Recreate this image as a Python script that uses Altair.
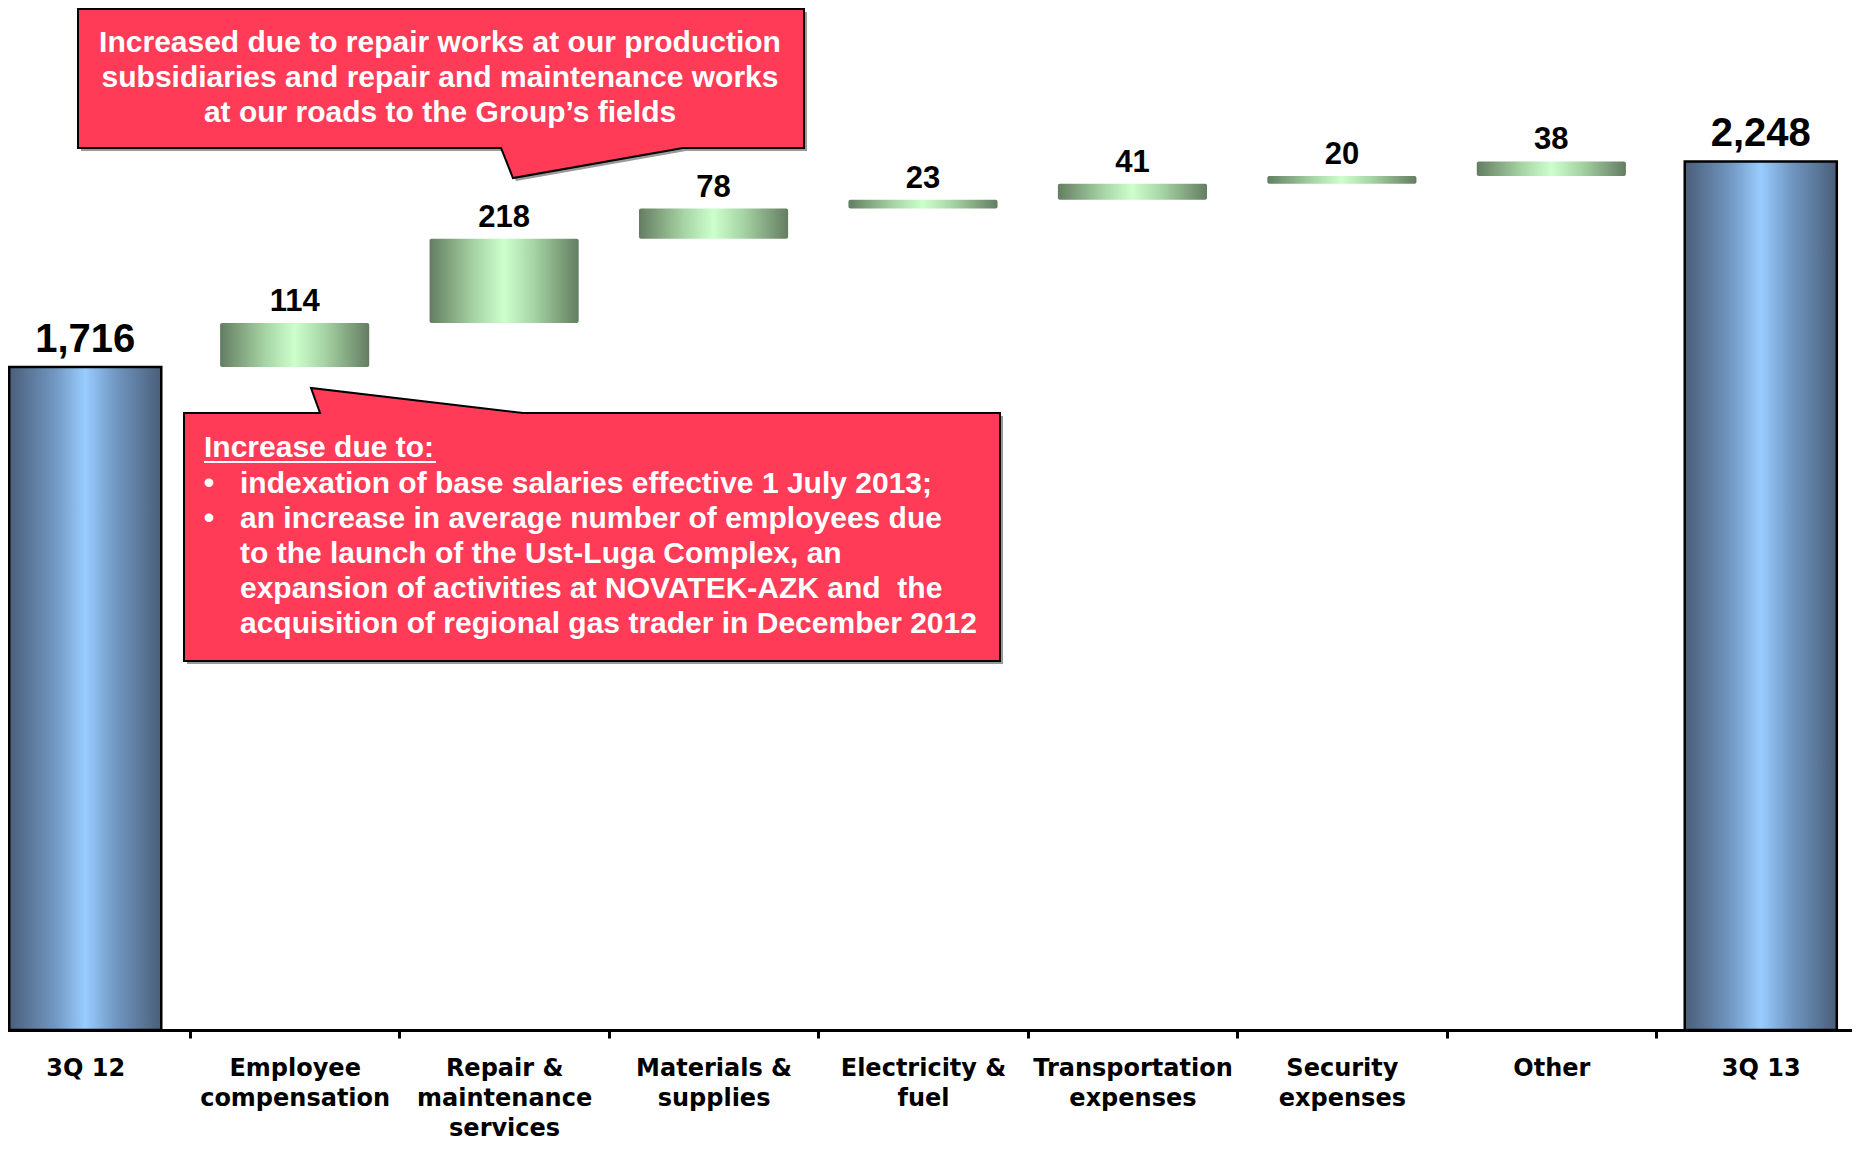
import altair as alt
import pandas as pd

# ---------------- data ----------------
categories = ["3Q 12", "Employee|compensation", "Repair &|maintenance|services",
              "Materials &|supplies", "Electricity &|fuel", "Transportation|expenses",
              "Security|expenses", "Other", "3Q 13"]
values = [1716, 114, 218, 78, 23, 41, 20, 38, 2248]
kinds = ["total", "delta", "delta", "delta", "delta", "delta", "delta", "delta", "total"]
value_labels = ["1,716", "114", "218", "78", "23", "41", "20", "38", "2,248"]

callout_top_lines = ["Increased due to repair works at our production",
                     "subsidiaries and repair and maintenance works",
                     "at our roads to the Group\u2019s fields"]
callout_bottom_header = "Increase due to:"
callout_bottom_lines = ["indexation of base salaries effective 1 July 2013;",
                        "an increase in average number of employees due",
                        "to the launch of the Ust-Luga Complex, an",
                        "expansion of activities at NOVATEK-AZK and\u00a0 the",
                        "acquisition of regional gas trader in December 2012"]

rows = []
running = 0
for c, v, k, lab in zip(categories, values, kinds, value_labels):
    if k == "total":
        s, e = 0, v
        running = v
    else:
        s, e = running, running + v
        running += v
    rows.append(dict(cat=c, start=s, end=e, kind=k, label=lab))
df = pd.DataFrame(rows)
one = pd.DataFrame({"a": [0]})

# ---------------- styles ----------------
RED = "#ff3b57"
blue_grad = alt.Gradient(gradient="linear", x1=0, x2=1, y1=0, y2=0, stops=[
    alt.GradientStop(color="#4a5e79", offset=0),
    alt.GradientStop(color="#7197c2", offset=0.3),
    alt.GradientStop(color="#99ccff", offset=0.5),
    alt.GradientStop(color="#7197c2", offset=0.7),
    alt.GradientStop(color="#4a5e79", offset=1)])
green_grad = alt.Gradient(gradient="linear", x1=0, x2=1, y1=0, y2=0, stops=[
    alt.GradientStop(color="#647d62", offset=0),
    alt.GradientStop(color="#a6d4a4", offset=0.3),
    alt.GradientStop(color="#ccffcc", offset=0.5),
    alt.GradientStop(color="#a6d4a4", offset=0.7),
    alt.GradientStop(color="#647d62", offset=1)])

x_enc = alt.X("cat:N", sort=categories,
              scale=alt.Scale(range=[-27.5, 1857.5], paddingInner=0, paddingOuter=0),
              axis=alt.Axis(title=None, labelExpr="split(datum.label, '|')",
                            labelAngle=0, labelFont="DejaVu Sans", labelFontWeight="bold",
                            labelFontSize=24, labelColor="black", labelLineHeight=30,
                            labelPadding=18, labelOverlap=False, labelLimit=400,
                            labelBaseline="top", domainColor="black", domainWidth=3,
                            tickColor="black", tickWidth=3, tickSize=8, tickBand="extent",
                            grid=False))
y_scale = alt.Scale(domain=[0, 2645], nice=False, zero=True)

totals = alt.Chart(df).transform_filter("datum.kind == 'total'").mark_bar(
    width=alt.RelativeBandSize(0.726), fill=blue_grad, stroke="black", strokeWidth=2.5
).encode(x=x_enc, y=alt.Y("start:Q", scale=y_scale, axis=None), y2="end:Q")

deltas = alt.Chart(df).transform_filter("datum.kind == 'delta'").mark_bar(
    width=alt.RelativeBandSize(0.712), fill=green_grad, cornerRadius=2
).encode(x=x_enc, y=alt.Y("start:Q", scale=y_scale, axis=None), y2="end:Q")

total_text = alt.Chart(df).transform_filter("datum.kind == 'total'").mark_text(
    font="Liberation Sans", fontWeight="bold", fontSize=40, dy=-15,
    baseline="alphabetic", color="black"
).encode(x=x_enc, y=alt.Y("end:Q", scale=y_scale, axis=None), text="label:N")

delta_text = alt.Chart(df).transform_filter("datum.kind == 'delta'").mark_text(
    font="Liberation Sans", fontWeight="bold", fontSize=31, dy=-12,
    baseline="alphabetic", color="black"
).encode(x=x_enc, y=alt.Y("end:Q", scale=y_scale, axis=None), text="label:N")

# ---------------- callouts (annotations, pixel positions) ----------------
path_top = "M70,1 L796,1 L796,140 L675,140 L505,170 L493,140 L70,140 Z"
path_bot = "M176,405 L312,405 L303,380 L515,405 L992,405 L992,653 L176,653 Z"


def bubble(path, dx, dy, fill, stroke):
    kw = dict(shape=path, size=4, filled=True, fill=fill, opacity=1, strokeOpacity=1, fillOpacity=1)
    if stroke:
        kw.update(stroke="black", strokeWidth=2)
    else:
        kw.update(strokeWidth=0)
    return alt.Chart(one).mark_point(**kw).encode(x=alt.value(dx), y=alt.value(dy))


shadows = bubble(path_top, 3, 3, "#9a9a9a", False) + bubble(path_bot, 3, 3, "#9a9a9a", False)
bubbles = bubble(path_top, 0, 0, RED, True) + bubble(path_bot, 0, 0, RED, True)

txt_kw = dict(font="Liberation Sans", fontWeight="bold", fontSize=30, color="white", lineHeight=35)
top_text = alt.Chart(one).mark_text(align="center", baseline="middle", **txt_kw).encode(
    x=alt.value(432), y=alt.value(35), text=alt.value(callout_top_lines))
hdr_text = alt.Chart(one).mark_text(align="left", baseline="middle", **txt_kw).encode(
    x=alt.value(196), y=alt.value(440), text=alt.value(callout_bottom_header))
underline = alt.Chart(one).mark_rule(color="white", strokeWidth=2).encode(
    x=alt.value(196), x2=alt.value(428), y=alt.value(454))
bullets = alt.Chart(one).mark_text(align="center", baseline="middle", **txt_kw).encode(
    x=alt.value(201), y=alt.value(476), text=alt.value(["\u2022", "\u2022"]))
body_text = alt.Chart(one).mark_text(align="left", baseline="middle", **txt_kw).encode(
    x=alt.value(232), y=alt.value(476), text=alt.value(callout_bottom_lines))

chart = alt.layer(
    totals, deltas, total_text, delta_text,
    shadows, bubbles, top_text, hdr_text, underline, bullets, body_text
).properties(
    width=1844, height=1022,
    autosize=alt.AutoSizeParams(type="none"),
    padding={"left": 0, "right": 0, "top": 0, "bottom": 113},
    background="white"
).configure_view(stroke=None)

chart.save("out.html", embed_options={"renderer": "svg", "actions": False})
